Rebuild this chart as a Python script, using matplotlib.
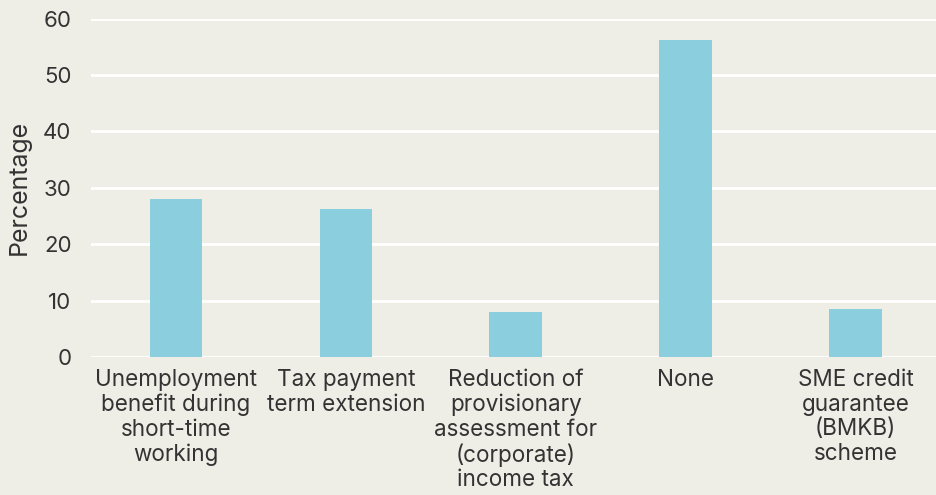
import matplotlib.pyplot as plt

categories = [
    "Unemployment\nbenefit during\nshort-time\nworking",
    "Tax payment\nterm extension",
    "Reduction of\nprovisionary\nassessment for\n(corporate)\nincome tax",
    "None",
    "SME credit\nguarantee\n(BMKB)\nscheme",
]
values = [28.1, 26.3, 8.0, 56.3, 8.5]
yticks = [0, 10, 20, 30, 40, 50, 60]

bg = "#efeee6"
bar_color = "#8bcfdf"
text_color = "#333333"

plt.rcParams['font.family'] = ['Inter', 'DejaVu Sans']

fig = plt.figure(figsize=(9.36, 4.95), dpi=100, facecolor=bg)
ax = fig.add_axes([0.0972, 0.2788, 0.9078, 0.6834], facecolor=bg)

x = range(len(categories))
ax.bar(x, values, width=0.31, color=bar_color, zorder=3)

ax.set_ylim(0, 60)
ax.set_xlim(-0.5, 4.5)
ax.set_yticks(yticks)
ax.set_xticks(list(x))
ax.set_xticklabels(categories, fontsize=16.2, color=text_color, linespacing=1.14)
ax.tick_params(axis='y', labelsize=16, colors=text_color, length=0, pad=14)
ax.tick_params(axis='x', length=0, pad=9)
ax.grid(axis='y', color='white', linewidth=2, zorder=1)
ax.set_axisbelow(True)
for s in ax.spines.values():
    s.set_visible(False)
ax.set_ylabel("Percentage", fontsize=18, color=text_color, labelpad=9)

fig.savefig("out.png", dpi=100, facecolor=bg)
